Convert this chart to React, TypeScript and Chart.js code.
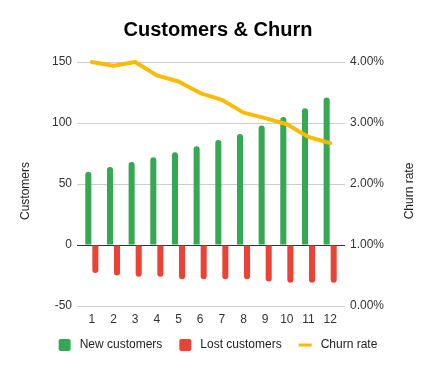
import React, { useEffect, useRef } from "react";
import { Chart, registerables } from "chart.js";

Chart.register(...registerables);

const months = ["1", "2", "3", "4", "5", "6", "7", "8", "9", "10", "11", "12"];
const newCustomers = [60, 64, 68, 72, 76, 81, 86, 91, 98, 105, 112, 121];
const lostCustomers = [-23, -25, -26, -26, -28, -28, -28, -28, -30, -31, -31, -31];
const churnRate = [4.0, 3.94, 4.0, 3.78, 3.68, 3.49, 3.38, 3.17, 3.08, 2.98, 2.77, 2.67];

const FONT = "'Liberation Sans', Arial, Helvetica, sans-serif";
const GREEN = "#34a853";
const RED = "#ea4335";
const YELLOW = "#f9bb05";
const TICK = "#333";

const overlayPlugin = {
  id: "overlay",
  afterDraw(chart: any) {
    const ctx = chart.ctx as CanvasRenderingContext2D;
    ctx.save();
    ctx.fillStyle = "#222";
    ctx.font = `12px ${FONT}`;
    ctx.textAlign = "center";
    ctx.textBaseline = "middle";
    const midY = 191;
    ctx.save();
    ctx.translate(26, midY);
    ctx.rotate(-Math.PI / 2);
    ctx.fillText("Customers", 0, 0);
    ctx.restore();
    ctx.save();
    ctx.translate(409.5, midY);
    ctx.rotate(-Math.PI / 2);
    ctx.fillText("Churn rate", 0, 0);
    ctx.restore();

    const items = chart.data.datasets.map((d: any) => ({
      label: d.label,
      color: d.type === "line" ? d.borderColor : d.backgroundColor,
      isLine: d.type === "line",
    }));
    ctx.font = `12px ${FONT}`;
    const boxW = 12;
    const gap = 9;
    const itemGap = 17;
    const widths = items.map((it: any) => (it.isLine ? 13 : boxW) + gap + ctx.measureText(it.label).width);
    const total = widths.reduce((a: number, b: number) => a + b, 0) + itemGap * (items.length - 1);
    let x = chart.width / 2 - total / 2;
    const ly = 345;
    ctx.textAlign = "left";
    items.forEach((it: any) => {
      ctx.fillStyle = it.color;
      if (it.isLine) {
        ctx.fillRect(x, ly - 1.5, 13, 3);
        x += 13;
      } else {
        ctx.beginPath();
        (ctx as any).roundRect(x, ly - 6, boxW, boxW, 2);
        ctx.fill();
        x += boxW;
      }
      x += gap;
      ctx.fillStyle = "#222";
      ctx.fillText(it.label, x, ly);
      x += ctx.measureText(it.label).width + itemGap;
    });
    ctx.restore();
  },
};

export default function App() {
  const ref = useRef<HTMLCanvasElement | null>(null);
  useEffect(() => {
    if (!ref.current) return;
    const chart = new Chart(ref.current, {
      type: "bar",
      data: {
        labels: months,
        datasets: [
          {
            type: "bar",
            label: "New customers",
            data: newCustomers,
            backgroundColor: GREEN,
            borderRadius: 3,
            borderSkipped: "start",
            yAxisID: "y",
            order: 2,
            categoryPercentage: 0.65,
            barPercentage: 0.86,
          } as any,
          {
            type: "bar",
            label: "Lost customers",
            data: lostCustomers,
            backgroundColor: RED,
            borderRadius: 3,
            borderSkipped: "start",
            yAxisID: "y",
            order: 3,
            categoryPercentage: 0.65,
            barPercentage: 0.86,
          } as any,
          {
            type: "line",
            label: "Churn rate",
            data: churnRate,
            borderColor: YELLOW,
            backgroundColor: YELLOW,
            borderWidth: 4,
            borderJoinStyle: "round",
            borderCapStyle: "round",
            pointRadius: 0,
            tension: 0,
            clip: false,
            yAxisID: "y1",
            order: 0,
          } as any,
        ],
      },
      options: {
        animation: false,
        responsive: true,
        maintainAspectRatio: false,
        layout: { padding: { left: 0, right: 0, top: 0, bottom: 0 } },
        plugins: {
          legend: { display: false },
          tooltip: { enabled: false },
          title: {
            display: true,
            text: "Customers & Churn",
            color: "#000",
            font: { family: FONT, size: 20, weight: "bold" },
            padding: { top: 18, bottom: 20 },
          },
        },
        scales: {
          x: {
            grid: { display: false, drawTicks: false },
            border: { display: false },
            ticks: { color: TICK, font: { family: FONT, size: 12 }, padding: 6 },
            afterFit: (s: any) => {
              s.height = 65;
            },
          },
          y: {
            position: "left",
            min: -50,
            max: 150,
            ticks: { stepSize: 50, color: TICK, font: { family: FONT, size: 12 }, padding: 5 },
            grid: {
              color: (c: any) => (c.tick && c.tick.value === 0 ? "#333" : "#ccc"),
              tickLength: 4,
            },
            border: { display: false },
            afterFit: (s: any) => {
              s.width = 81;
            },
          },
          y1: {
            position: "right",
            min: 0,
            max: 4,
            ticks: {
              stepSize: 1,
              color: TICK,
              font: { family: FONT, size: 12 },
              padding: 5,
              callback: (v: any) => `${Number(v).toFixed(2)}%`,
            },
            grid: {
              drawOnChartArea: false,
              color: (c: any) => (c.tick && Math.abs(c.tick.value - 1) < 1e-6 ? "#333" : "#ccc"),
              tickLength: 4,
            },
            border: { display: false },
            afterFit: (s: any) => {
              s.width = 95;
            },
          },
        },
      },
      plugins: [overlayPlugin],
    });
    return () => chart.destroy();
  }, []);
  return (
    <div style={{ position: "absolute", left: 0, top: 0, width: 436, height: 371, background: "#fff" }}>
      <canvas ref={ref} />
    </div>
  );
}
